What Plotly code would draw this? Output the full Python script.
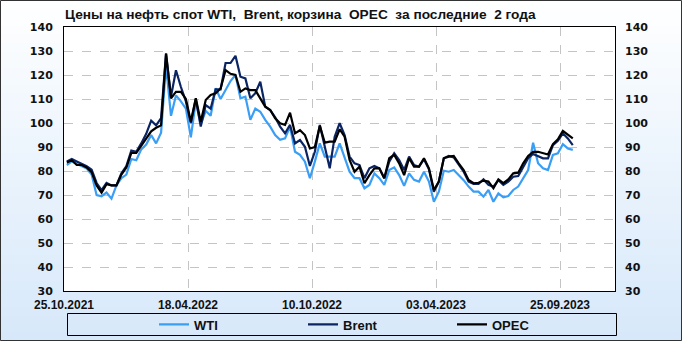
import plotly.graph_objects as go
import pandas as pd

# ---- data ----
start_date = "2021-10-29"
n_points = 103
dates = pd.date_range(start_date, periods=n_points, freq="7D")

tick_dates = ["2021-10-25", "2022-04-18", "2022-10-10", "2023-04-03", "2023-09-25"]
tick_labels = ["25.10.2021", "18.04.2022", "10.10.2022", "03.04.2023", "25.09.2023"]

wti = [82.5, 84, 83, 82, 81, 78.5, 70, 69.5, 71, 68.5,
       74, 77, 78.5, 85, 84.5, 89, 91, 95, 91.5, 96,
       124, 103, 111.5, 109, 106, 94, 109, 99.5, 105, 103,
       114.5, 110, 114, 117.5, 120, 110.3, 111, 101.3, 106, 104.7,
       101.3, 98.5, 95, 93, 93.6, 98.5, 88, 86.7, 83.9, 77,
       83.9, 91.5, 86, 86, 86, 91.5, 86, 79.7, 77, 77,
       72.8, 74.2, 79, 77, 74.2, 80.4, 81.5, 78.3, 73.8, 79,
       76.3, 75.6, 79.7, 75.6, 67.2, 71.4, 80.1, 79.7, 80.4, 78.3,
       76.2, 73.5, 71.4, 71.4, 69.3, 72.1, 67.2, 70.7, 69, 69.6,
       72.1, 73.5, 77, 80.4, 91.8, 83.2, 81.1, 80.4, 86.7, 87.4,
       91.2, 89.4, 88.8]

brent = [84, 85, 84, 83, 82, 80.5, 75, 72, 75, 74,
         74, 79, 82, 88.5, 88, 91.5, 95.5, 101, 99, 102,
         129, 111, 122, 115, 109, 100, 110, 98.5, 107.5, 106,
         114, 114, 125, 125, 128, 119.3, 118.6, 110.3, 112.4, 117.2,
         106.8, 105.4, 102.4, 98.5, 95.7, 99.2, 91.5, 92.9, 90.1, 82.1,
         88, 99.2, 90, 81.1, 94.3, 99.9, 95, 86, 83.2, 82.5,
         77, 81.1, 82.1, 81.1, 77, 83.9, 87.4, 84.6, 80.4, 86,
         82.5, 81.8, 84.9, 80.7, 71.4, 75.6, 85.3, 86.3, 85.7, 82.5,
         79.7, 75.6, 74.6, 74.6, 76.5, 74.2, 73.5, 76.2, 74.2, 75.6,
         77.6, 77.9, 81.8, 85.3, 87.1, 86.3, 85.3, 85.3, 90.8, 92.6,
         95.7, 93.6, 90.8]

opec = [83.5, 84.5, 82.5, 82.5, 81.5, 79.5, 74, 71, 74.5, 74,
        74, 78.5, 81.5, 87.5, 87.5, 90.5, 94, 96.5, 98, 99,
        128.8, 110.3, 113, 113, 110, 100.5, 110.3, 100.5, 109.6, 111.7,
        112.4, 114.4, 122, 120.5, 120, 113, 114.4, 113.7, 113.7, 110.3,
        106.8, 105.4, 102, 99.9, 99.2, 104.3, 95.7, 97, 95, 89.4,
        90, 98.8, 91.8, 92.2, 92.2, 97.4, 94.3, 84.6, 79.7, 81.8,
        74.9, 78.3, 81.1, 81.1, 77, 85.3, 86.7, 83.2, 78.3, 85.3,
        81.8, 81.8, 85.3, 81.1, 72.1, 75.6, 85.3, 86, 86.3, 83.2,
        80.4, 76.3, 74.9, 75.1, 76, 75.6, 72.8, 76.5, 74.9, 76.5,
        79, 79.3, 83.2, 86.3, 88, 88, 87.4, 86.9, 91.2, 93.2,
        96.7, 95, 93.6]

series_names = ["WTI", "Brent", "OPEC"]
series_colors = ["#3A9EF5", "#0B2563", "#000000"]
title_text = "Цены на нефть спот WTI,\u00a0 Brent, корзина\u00a0 OPEC\u00a0 за последние\u00a0 2 года"

# ---- figure ----
W, H = 682, 341
ML, MR, MT, MB = 64, 67, 27, 50
PW, PH = W - ML - MR, H - MT - MB

fig = go.Figure()
for name, vals, col in zip(series_names, [wti, brent, opec], series_colors):
    fig.add_trace(go.Scatter(x=dates, y=vals, mode="lines", name=name,
                             line=dict(color=col, width=2.2)))
# helper trace for right axis
fig.add_trace(go.Scatter(x=[], y=[], yaxis="y2", showlegend=False, hoverinfo="skip"))

shapes = []
# gradient background
nb = 40
def lerp(a, b, t):
    return int(round(a + (b - a) * t))
top_c, bot_c = (255, 255, 255), (214, 232, 250)
for i in range(nb):
    py0 = H * i / nb
    py1 = H * (i + 1) / nb + 0.8
    t = (i + 0.5) / nb
    c = "rgb(%d,%d,%d)" % tuple(lerp(top_c[j], bot_c[j], t) for j in range(3))
    shapes.append(dict(type="rect", xref="paper", yref="paper", layer="below",
                       x0=-ML / PW, x1=1 + MR / PW,
                       y0=(H - MB - py1) / PH, y1=(H - MB - py0) / PH,
                       fillcolor=c, line=dict(width=0)))
# white plot area
shapes.append(dict(type="rect", xref="paper", yref="paper", layer="below",
                   x0=0, x1=1, y0=0, y1=1, fillcolor="white", line=dict(width=0)))
# legend frame
def px_x(p):
    return (p - ML) / PW
def px_y(p):
    return (H - MB - p) / PH
shapes.append(dict(type="rect", xref="paper", yref="paper", layer="above",
                   x0=px_x(67.5), x1=px_x(616.5), y0=px_y(335.5), y1=px_y(313.5),
                   fillcolor="rgba(0,0,0,0)", line=dict(color="black", width=1)))
# outer border
shapes.append(dict(type="rect", xref="paper", yref="paper", layer="above",
                   x0=px_x(0.5), x1=px_x(W - 0.5), y0=px_y(H - 0.5), y1=px_y(0.5),
                   fillcolor="rgba(0,0,0,0)", line=dict(color="#333333", width=1)))

tick_font_x = dict(family="Liberation Sans, Arial, sans-serif", size=12, color="#111111", weight="bold")
tick_font_y = dict(family="DejaVu Sans, Verdana, sans-serif", size=11, color="#111111", weight="bold")

fig.update_layout(
    width=W, height=H,
    margin=dict(l=ML, r=MR, t=MT, b=MB, pad=0, autoexpand=False),
    paper_bgcolor="#EAF3FC",
    plot_bgcolor="white",
    shapes=shapes,
    title=dict(text=title_text, x=65 / W, xanchor="left", xref="container",
               y=1 - 14.5 / H, yanchor="middle", yref="container",
               font=dict(family="Liberation Sans, Arial, sans-serif",
                         size=13.7, color="#111111", weight="bold")),
    xaxis=dict(type="date", range=["2021-10-25", "2023-12-11 14:00"],
               tickmode="array", tickvals=tick_dates, ticktext=tick_labels,
               showgrid=True, gridcolor="#C4C4C4", griddash="dash", gridwidth=1,
               showline=True, linecolor="black", linewidth=1, mirror=True,
               ticks="", ticklabelstandoff=3, tickfont=tick_font_x, zeroline=False,
               automargin=False, fixedrange=True),
    yaxis=dict(range=[30, 140], tick0=30, dtick=10,
               showgrid=True, gridcolor="#C4C4C4", griddash="dash", gridwidth=1,
               showline=True, linecolor="black", linewidth=1, mirror=True,
               ticks="", ticklabelstandoff=8, tickfont=tick_font_y, zeroline=False,
               automargin=False),
    yaxis2=dict(range=[30, 140], tick0=30, dtick=10, overlaying="y", side="right",
                showgrid=False, showline=False, ticks="", ticklabelstandoff=9,
                tickfont=tick_font_y, zeroline=False, automargin=False),
    legend=dict(orientation="h", xref="container", yref="container",
                x=154 / W, xanchor="left", y=1 - 324.5 / H, yanchor="middle",
                bgcolor="rgba(0,0,0,0)", borderwidth=0,
                entrywidth=104, entrywidthmode="pixels",
                font=dict(family="Liberation Sans, Arial, sans-serif", size=13,
                          color="#111111", weight="bold")),
    showlegend=True,
)

fig.write_html("out.html")
